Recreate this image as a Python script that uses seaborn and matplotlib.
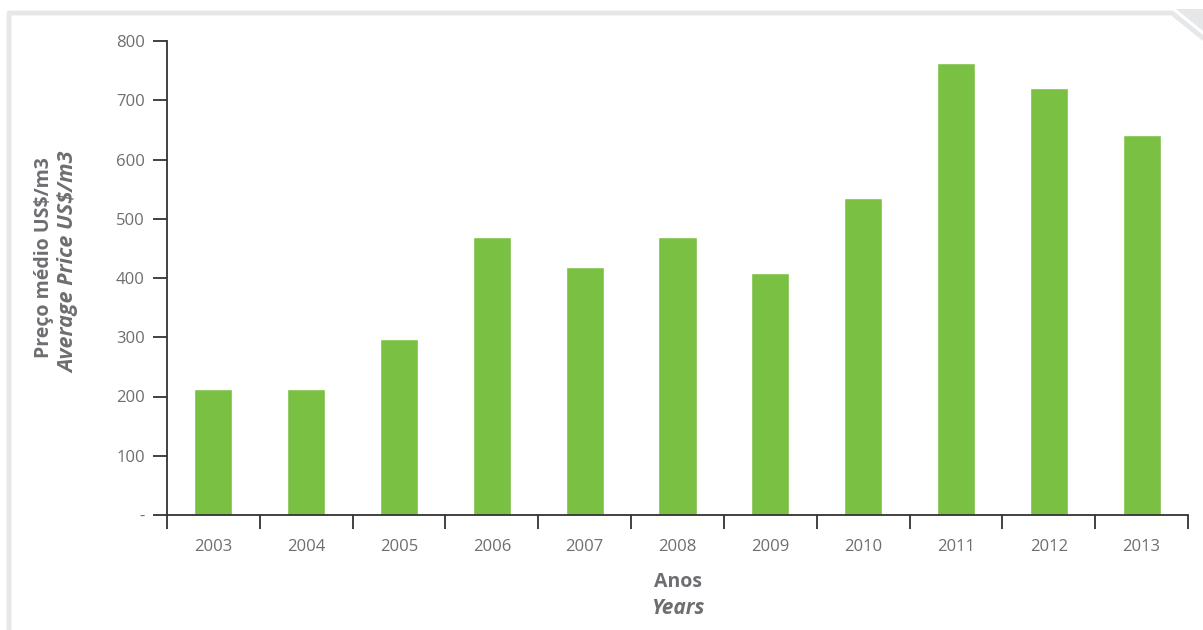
import matplotlib
matplotlib.use("Agg")
import matplotlib.pyplot as plt
import seaborn as sns
import pandas as pd
from matplotlib.lines import Line2D
from matplotlib.patches import Polygon

# dados
anos = ['2003', '2004', '2005', '2006', '2007', '2008', '2009', '2010', '2011', '2012', '2013']
precos = [212, 212, 297, 469, 418, 469, 408, 535, 763, 721, 641]
y_ticks = [0, 100, 200, 300, 400, 500, 600, 700, 800]
y_tick_labels = ['-', '100', '200', '300', '400', '500', '600', '700', '800']

df = pd.DataFrame({'Ano': anos, 'Preco': precos})

sns.set_style("white")
plt.rcParams['font.family'] = ['Open Sans', 'DejaVu Sans']

cinza = '#6d6e71'
verde = '#7ac143'

fig = plt.figure(figsize=(12.03, 6.30), dpi=100)
ax = fig.add_axes([167 / 1203, 115 / 630, (1188 - 167) / 1203, (515 - 41) / 630])

sns.barplot(data=df, x='Ano', y='Preco', color=verde, saturation=1, width=0.41, ax=ax)

ax.set_xlim(-0.5, len(anos) - 0.5)
ax.set_ylim(0, 800)
ax.set_yticks(y_ticks)
ax.set_yticklabels(y_tick_labels)
ax.set_xlabel('')
ax.set_ylabel('')

# ticks do eixo x nos limites das categorias
ax.set_xticks([i - 0.5 for i in range(len(anos) + 1)], minor=True)
ax.tick_params(axis='both', which='both', bottom=True, left=True)
ax.tick_params(axis='x', which='major', length=0, pad=17, labelsize=12, labelcolor=cinza)
ax.tick_params(axis='x', which='minor', length=10, width=1.3, color='#333333', direction='out')
ax.tick_params(axis='y', which='major', length=10, width=1.3, color='#333333', direction='out',
               pad=6, labelsize=12, labelcolor=cinza)

for s in ['top', 'right']:
    ax.spines[s].set_visible(False)
for s in ['left', 'bottom']:
    ax.spines[s].set_color('#333333')
    ax.spines[s].set_linewidth(1.3)

# rótulos dos eixos
fig.text(44 / 1203, 1 - 258 / 630, 'Preço médio US$/m3', rotation=90, ha='center', va='center',
         fontsize=14, fontweight='bold', color=cinza)
fig.text(69 / 1203, 1 - 262 / 630, 'Average Price US$/m3', rotation=90, ha='center', va='center',
         fontsize=15.5, fontweight='bold', fontstyle='italic', color=cinza)
fig.text(678 / 1203, 1 - 582 / 630, 'Anos', ha='center', va='center',
         fontsize=14, fontweight='bold', color=cinza)
fig.text(678 / 1203, 1 - 608 / 630, 'Years', ha='center', va='center',
         fontsize=15, fontweight='bold', fontstyle='italic', color=cinza)

# moldura cinza
moldura = '#e6e7e8'
fig.add_artist(Line2D([9 / 1203, 9 / 1203, 1172 / 1203, 1203 / 1203],
                      [0, 1 - 13 / 630, 1 - 13 / 630, 1 - 38 / 630],
                      transform=fig.transFigure, color=moldura, lw=3.5))
fig.add_artist(Polygon([[1176 / 1203, 1 - 9 / 630], [1, 1 - 9 / 630], [1, 1 - 31 / 630]],
                       closed=True, transform=fig.transFigure, facecolor=moldura, edgecolor='none'))

fig.savefig('out.png', dpi=100)
